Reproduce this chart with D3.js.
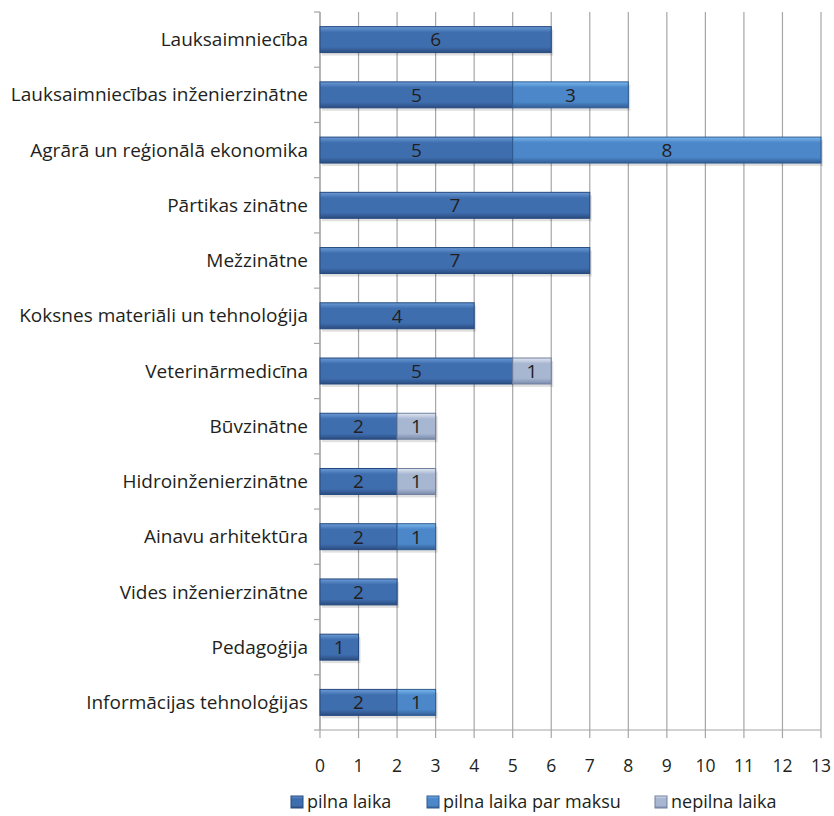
<!DOCTYPE html>
<html>
<head>
<meta charset="utf-8">
<script src="https://cdn.jsdelivr.net/npm/d3@7"></script>
<style>
body { margin: 0; background: #fff; }
svg text { font-family: "Open Sans", "Noto Sans", sans-serif; fill: #231f20; }
</style>
</head>
<body>
<div id="chart"></div>
<script>
// categories top to bottom
var categories = ["Lauksaimniecība", "Lauksaimniecības inženierzinātne", "Agrārā un reģionālā ekonomika",
    "Pārtikas zinātne", "Mežzinātne", "Koksnes materiāli un tehnoloģija", "Veterinārmedicīna",
    "Būvzinātne", "Hidroinženierzinātne", "Ainavu arhitektūra", "Vides inženierzinātne",
    "Pedagoģija", "Informācijas tehnoloģijas"];
var pilnaLaika = [6, 5, 5, 7, 7, 4, 5, 2, 2, 2, 2, 1, 2];
var parMaksu = [0, 3, 8, 0, 0, 0, 0, 0, 0, 1, 0, 0, 1];
var nepilnaLaika = [0, 0, 0, 0, 0, 0, 1, 1, 1, 0, 0, 0, 0];
var seriesNames = ["pilna laika", "pilna laika par maksu", "nepilna laika"];
var xTicks = d3.range(0, 14);

var width = 834, height = 816;
var margin = {top: 12, right: 13, bottom: 86, left: 320};

var svg = d3.select("#chart").append("svg")
    .attr("width", width)
    .attr("height", height);

// gradients for bevelled bars
var defs = svg.append("defs");
var colors = [
    {id: "g0", top: "#6b9ad6", mid: "#3f6eaf", bot: "#2a4c80"},
    {id: "g1", top: "#7ab6ec", mid: "#4b87c9", bot: "#335d94"},
    {id: "g2", top: "#e2e8f3", mid: "#a7b6d1", bot: "#7b8cad"}
];
colors.forEach(function(c) {
    var g = defs.append("linearGradient").attr("id", c.id)
        .attr("x1", 0).attr("y1", 0).attr("x2", 0).attr("y2", 1);
    g.append("stop").attr("offset", "0%").attr("stop-color", c.top);
    g.append("stop").attr("offset", "22%").attr("stop-color", c.mid);
    g.append("stop").attr("offset", "78%").attr("stop-color", c.mid);
    g.append("stop").attr("offset", "100%").attr("stop-color", c.bot);
});
var strokes = ["#24487d", "#2e5a90", "#6f7f9e"];

var x = d3.scaleLinear().domain([0, 13]).range([margin.left, width - margin.right]);
var y = d3.scaleBand().domain(categories)
    .range([margin.top, height - margin.bottom])
    .paddingInner(0.53).paddingOuter(0.265);

var plotBottom = height - margin.bottom;

// vertical gridlines + ticks below axis
svg.append("g").selectAll("line")
    .data(xTicks)
    .enter().append("line")
    .attr("x1", d => x(d)).attr("x2", d => x(d))
    .attr("y1", margin.top).attr("y2", plotBottom + 8)
    .attr("stroke", "#a6a6a6")
    .attr("stroke-width", 1.2);

// x axis line
svg.append("line")
    .attr("x1", x(0)).attr("x2", x(13))
    .attr("y1", plotBottom).attr("y2", plotBottom)
    .attr("stroke", "#a6a6a6").attr("stroke-width", 1.2);

// y axis line and ticks at category boundaries
svg.append("line")
    .attr("x1", x(0)).attr("x2", x(0))
    .attr("y1", margin.top).attr("y2", plotBottom)
    .attr("stroke", "#a6a6a6").attr("stroke-width", 1.2);
svg.append("g").selectAll("line")
    .data(d3.range(0, categories.length + 1))
    .enter().append("line")
    .attr("x1", x(0) - 6).attr("x2", x(0))
    .attr("y1", i => margin.top + i * (plotBottom - margin.top) / categories.length)
    .attr("y2", i => margin.top + i * (plotBottom - margin.top) / categories.length)
    .attr("stroke", "#a6a6a6").attr("stroke-width", 1.2);

// x tick labels
svg.append("g").selectAll("text")
    .data(xTicks)
    .enter().append("text")
    .attr("x", d => x(d))
    .attr("y", plotBottom + 42)
    .attr("text-anchor", "middle")
    .style("font-size", "17.5px")
    .text(d => d);

// category labels
svg.append("g").selectAll("text")
    .data(categories)
    .enter().append("text")
    .attr("x", x(0) - 12)
    .attr("y", d => y(d) + y.bandwidth() / 2)
    .attr("dy", "0.35em")
    .attr("text-anchor", "end")
    .style("font-size", "19px")
    .text(d => d);

// stacked bars
var rows = categories.map(function(c, i) {
    return {cat: c, vals: [pilnaLaika[i], parMaksu[i], nepilnaLaika[i]]};
});
var segs = [];
rows.forEach(function(r) {
    var start = 0;
    r.vals.forEach(function(v, s) {
        if (v > 0) segs.push({cat: r.cat, s: s, x0: start, x1: start + v, v: v});
        start += v;
    });
});

var bars = svg.append("g");
bars.selectAll("rect.shadow")
    .data(segs)
    .enter().append("rect")
    .attr("x", d => x(d.x0) + 2)
    .attr("y", d => y(d.cat) + 3)
    .attr("width", d => x(d.x1) - x(d.x0))
    .attr("height", y.bandwidth())
    .attr("fill", "#000")
    .attr("opacity", 0.12);

bars.selectAll("rect.seg")
    .data(segs)
    .enter().append("rect")
    .attr("class", "seg")
    .attr("x", d => x(d.x0))
    .attr("y", d => y(d.cat))
    .attr("width", d => x(d.x1) - x(d.x0))
    .attr("height", y.bandwidth())
    .attr("fill", d => "url(#g" + d.s + ")")
    .attr("stroke", d => strokes[d.s])
    .attr("stroke-width", 1);

bars.selectAll("text")
    .data(segs)
    .enter().append("text")
    .attr("x", d => (x(d.x0) + x(d.x1)) / 2)
    .attr("y", d => y(d.cat) + y.bandwidth() / 2)
    .attr("dy", "0.36em")
    .attr("text-anchor", "middle")
    .style("font-size", "19px")
    .text(d => d.v);

// legend
var legendX = [291, 427, 655];
var legend = svg.append("g").selectAll("g")
    .data(seriesNames)
    .enter().append("g")
    .attr("transform", (d, i) => "translate(" + legendX[i] + "," + 802 + ")");
legend.append("rect")
    .attr("x", 0).attr("y", -6)
    .attr("width", 12).attr("height", 12)
    .attr("fill", (d, i) => "url(#g" + i + ")")
    .attr("stroke", (d, i) => strokes[i]);
legend.append("text")
    .attr("x", 16)
    .attr("dy", "0.35em")
    .style("font-size", "18px")
    .text(d => d);
</script>
</body>
</html>
